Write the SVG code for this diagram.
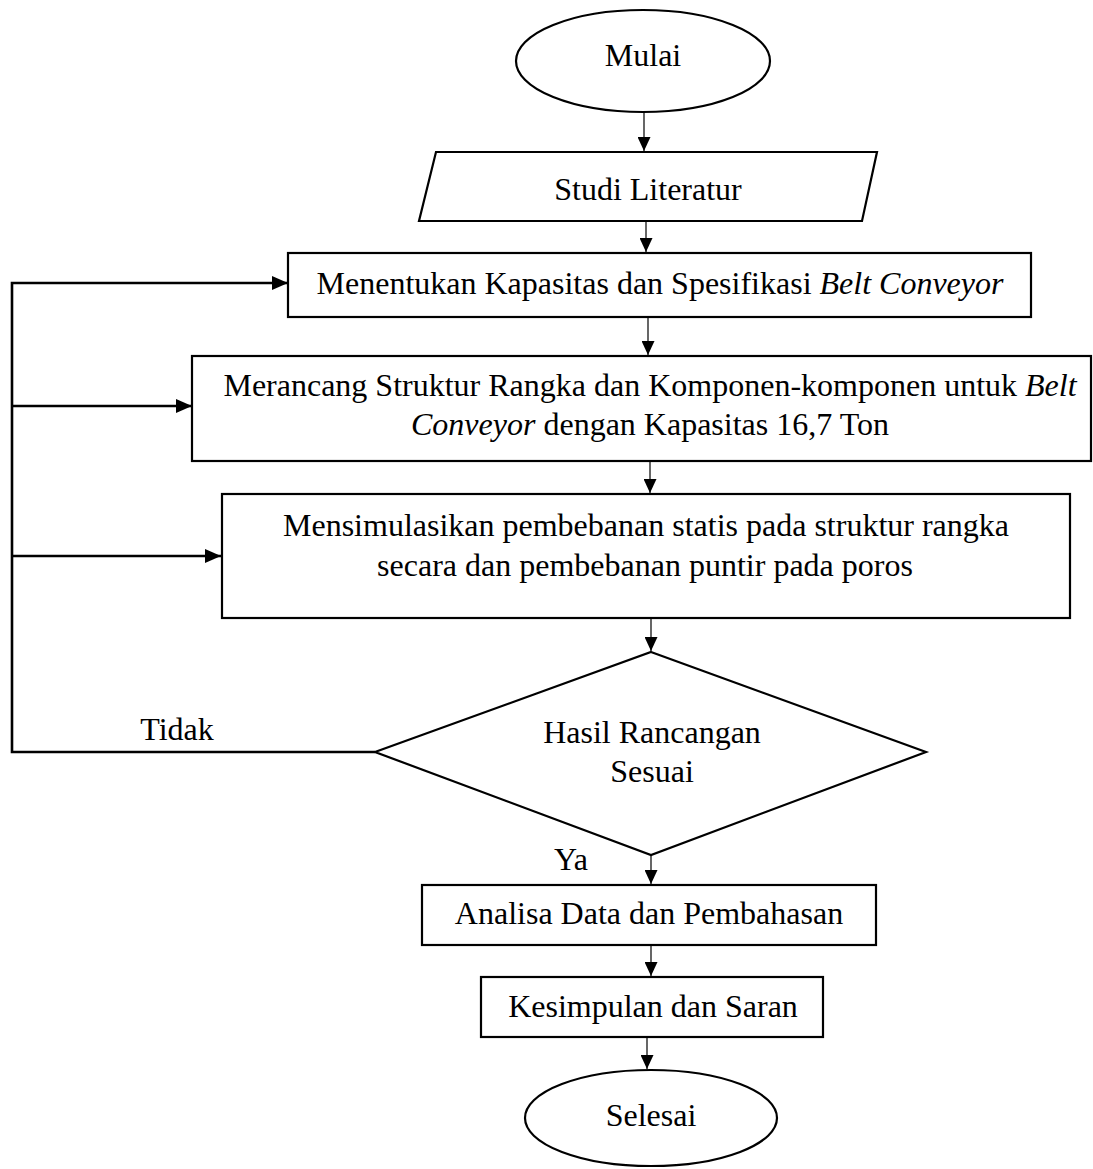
<svg xmlns="http://www.w3.org/2000/svg" width="1093" height="1169" viewBox="0 0 1093 1169">
<style>
.n{fill:#fff;stroke:#000;stroke-width:2.2}
.t{font-family:"Liberation Serif","Times New Roman",serif;font-size:32px;fill:#000;text-anchor:middle}
.i{font-style:italic}
.c{fill:none;stroke:#000;stroke-width:1.2}
.f{fill:none;stroke:#000;stroke-width:2.6}
</style>
<defs>
<marker id="a" markerWidth="14" markerHeight="13" refX="14" refY="6.5" orient="auto" markerUnits="userSpaceOnUse"><path d="M0,0 L14,6.5 L0,13 Z" fill="#000"/></marker>
<marker id="b" markerWidth="16" markerHeight="14" refX="16" refY="7" orient="auto" markerUnits="userSpaceOnUse"><path d="M0,0 L16,7 L0,14 Z" fill="#000"/></marker>
</defs>
<g id="connectors">
<line class="c" x1="644" y1="112" x2="644" y2="151" marker-end="url(#a)"/>
<line class="c" x1="646" y1="221" x2="646" y2="252" marker-end="url(#a)"/>
<line class="c" x1="648" y1="317" x2="648" y2="355" marker-end="url(#a)"/>
<line class="c" x1="650" y1="461" x2="650" y2="493" marker-end="url(#a)"/>
<line class="c" x1="651" y1="618" x2="651" y2="651" marker-end="url(#a)"/>
<line class="c" x1="651" y1="855" x2="651" y2="884" marker-end="url(#a)"/>
<line class="c" x1="651" y1="945" x2="651" y2="976" marker-end="url(#a)"/>
<line class="c" x1="647" y1="1037" x2="647" y2="1069" marker-end="url(#a)"/>
<polyline class="f" points="375,752 12,752 12,283 288,283" marker-end="url(#b)"/>
<line class="f" x1="12" y1="406" x2="192" y2="406" marker-end="url(#b)"/>
<line class="f" x1="12" y1="556" x2="221" y2="556" marker-end="url(#b)"/>
<text class="t" x="177" y="740">Tidak</text>
<text class="t" x="571" y="870">Ya</text>
</g>
<g id="mulai">
<ellipse class="n" cx="643" cy="61" rx="127" ry="51"/>
<text class="t" x="643" y="66">Mulai</text>
</g>
<g id="studi">
<polygon class="n" points="436,152 877,152 862,221 419,221"/>
<text class="t" x="648" y="200">Studi Literatur</text>
</g>
<g id="menentukan">
<rect class="n" x="288" y="253" width="743" height="64"/>
<text class="t" x="660" y="294">Menentukan Kapasitas dan Spesifikasi <tspan class="i">Belt Conveyor</tspan></text>
</g>
<g id="merancang">
<rect class="n" x="192" y="356" width="899" height="105"/>
<text class="t" x="650" y="396">Merancang Struktur Rangka dan Komponen-komponen untuk <tspan class="i">Belt</tspan></text>
<text class="t" x="650" y="435"><tspan class="i">Conveyor</tspan> dengan Kapasitas 16,7 Ton</text>
</g>
<g id="simulasi">
<rect class="n" x="222" y="494" width="848" height="124"/>
<text class="t" x="646" y="536">Mensimulasikan pembebanan statis pada struktur rangka</text>
<text class="t" x="645" y="576">secara dan pembebanan puntir pada poros</text>
</g>
<g id="keputusan">
<polygon class="n" points="651,652 926,752 651,855 375,752"/>
<text class="t" x="652" y="743">Hasil Rancangan</text>
<text class="t" x="652" y="782">Sesuai</text>
</g>
<g id="analisa">
<rect class="n" x="422" y="885" width="454" height="60"/>
<text class="t" x="649" y="924">Analisa Data dan Pembahasan</text>
</g>
<g id="kesimpulan">
<rect class="n" x="481" y="977" width="342" height="60"/>
<text class="t" x="653" y="1017">Kesimpulan dan Saran</text>
</g>
<g id="selesai">
<ellipse class="n" cx="651" cy="1118" rx="126" ry="48"/>
<text class="t" x="651" y="1126">Selesai</text>
</g>
</svg>
